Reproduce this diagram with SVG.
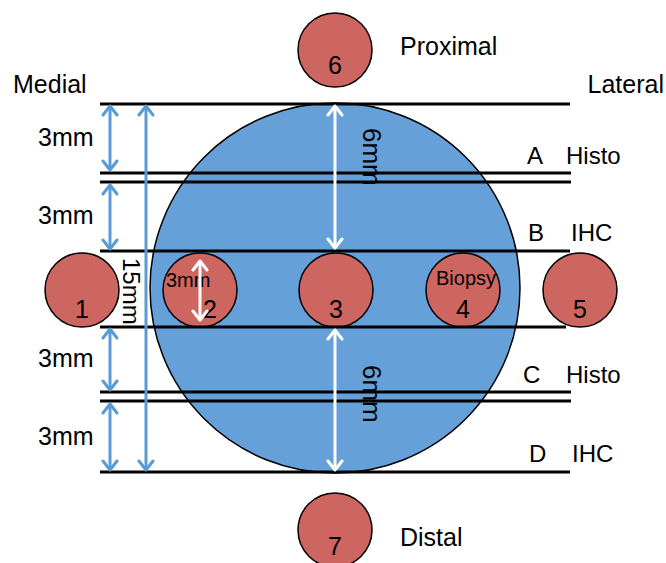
<svg xmlns="http://www.w3.org/2000/svg" width="666" height="563" viewBox="0 0 666 563">
<style>
text{font-family:"Liberation Sans",Arial,sans-serif;fill:#000}
.lbl{font-size:25px}
.r{font-size:24px}
.num{font-size:25px;text-anchor:middle}
.red{fill:#cd6661;stroke:#000;stroke-width:1.5}
.cut{stroke:#000;stroke-width:3;fill:none}
.ba{stroke:#5b9bd5;stroke-width:3;fill:none;marker-start:url(#hb);marker-end:url(#hb)}
.wa{stroke:#fff;stroke-width:3;fill:none;marker-start:url(#hw);marker-end:url(#hw)}
</style>
<defs>
<marker id="hb" viewBox="-12 -9 14 18" refX="0" refY="0" markerUnits="userSpaceOnUse" markerWidth="14" markerHeight="18" orient="auto-start-reverse">
<path d="M-9,-7 L0,0 L-9,7" fill="none" stroke="#5b9bd5" stroke-width="3" stroke-linecap="round" stroke-linejoin="round"/>
</marker>
<marker id="hw" viewBox="-12 -9 14 18" refX="0" refY="0" markerUnits="userSpaceOnUse" markerWidth="14" markerHeight="18" orient="auto-start-reverse">
<path d="M-9,-7 L0,0 L-9,7" fill="none" stroke="#fff" stroke-width="3" stroke-linecap="round" stroke-linejoin="round"/>
</marker>
</defs>
<rect width="666" height="563" fill="#fff"/>
<g id="specimen">
<circle cx="335" cy="288" r="185" fill="#66a0d9" stroke="#000" stroke-width="1.5"/>
</g>
<g id="n1"><circle class="red" cx="82" cy="290" r="37"/><text class="num" x="82" y="318">1</text></g>
<g id="n2"><circle class="red" cx="200" cy="290" r="37"/><text class="num" x="210" y="318">2</text><text x="166" y="287" style="font-size:20px">3mm</text></g>
<g id="n3"><circle class="red" cx="336" cy="290" r="37"/><text class="num" x="336" y="318">3</text></g>
<g id="n4"><circle class="red" cx="463" cy="290" r="37"/><text class="num" x="463" y="318">4</text><text x="436" y="285" style="font-size:20px">Biopsy</text></g>
<g id="n5"><circle class="red" cx="580" cy="290" r="37"/><text class="num" x="580" y="318">5</text></g>
<g id="n6"><circle class="red" cx="335" cy="50" r="37"/><text class="num" x="335" y="74">6</text></g>
<g id="n7"><circle class="red" cx="335" cy="530" r="37"/><text class="num" x="335" y="555">7</text></g>
<g id="cuts">
<line class="cut" x1="100" y1="104" x2="570" y2="104"/>
<line class="cut" x1="100" y1="173" x2="571" y2="173"/>
<line class="cut" x1="100" y1="182" x2="571" y2="182"/>
<line class="cut" x1="100" y1="251" x2="570" y2="251"/>
<line class="cut" x1="100" y1="327" x2="566" y2="327"/>
<line class="cut" x1="100" y1="392" x2="571" y2="392"/>
<line class="cut" x1="100" y1="401" x2="571" y2="401"/>
<line class="cut" x1="100" y1="472" x2="570" y2="472"/>
</g>
<g id="connectors">
<line class="ba" x1="110" y1="106" x2="110" y2="170"/>
<line class="ba" x1="110" y1="185" x2="110" y2="249"/>
<line class="ba" x1="110" y1="329" x2="110" y2="390"/>
<line class="ba" x1="110" y1="404" x2="110" y2="470"/>
<line class="ba" x1="146" y1="106" x2="146" y2="470"/>
<line class="wa" x1="335" y1="106" x2="335" y2="248"/>
<line class="wa" x1="335" y1="330" x2="335" y2="470"/>
<line class="wa" x1="200" y1="261" x2="200" y2="320"/>
</g>
<g id="labels">
<text class="lbl" x="13" y="93">Medial</text>
<text class="lbl" x="664" y="93" text-anchor="end">Lateral</text>
<text class="lbl" x="400" y="55">Proximal</text>
<text class="lbl" x="400" y="546">Distal</text>
<text class="lbl" x="38" y="146">3mm</text>
<text class="lbl" x="38" y="224">3mm</text>
<text class="lbl" x="38" y="367">3mm</text>
<text class="lbl" x="38" y="445">3mm</text>
<text class="r" transform="translate(123,258) rotate(90)">15mm</text>
<text class="r" transform="translate(363,128) rotate(90)" style="font-size:26px">6mm</text>
<text class="r" transform="translate(363,365) rotate(90)" style="font-size:26px">6mm</text>
<text class="r" x="527" y="164">A</text><text class="r" x="566" y="164">Histo</text>
<text class="r" x="528" y="241">B</text><text class="r" x="571" y="241">IHC</text>
<text class="r" x="523" y="383">C</text><text class="r" x="566" y="383">Histo</text>
<text class="r" x="529" y="462">D</text><text class="r" x="572" y="462">IHC</text>
</g>
</svg>
